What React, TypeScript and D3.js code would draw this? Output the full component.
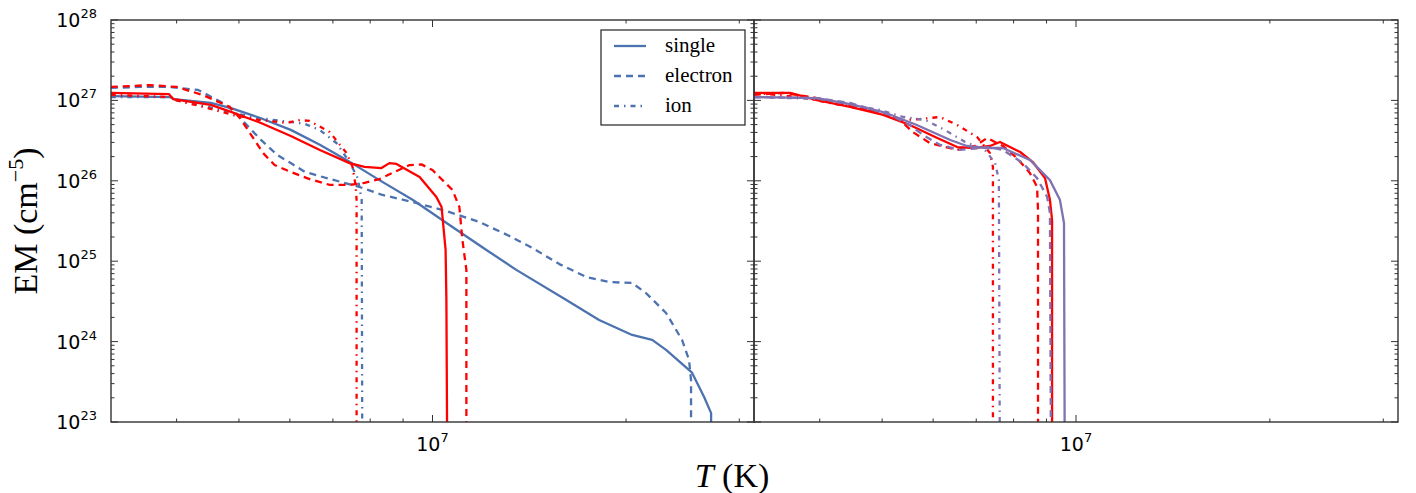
import React from 'react'
import * as d3 from 'd3'

type Pt = [number, number] // [T (K), EM (cm^-5)]

// left panel – blue runs
const singleBlue: Pt[] = [
  [3.16e6, 1.13e27], [3.91e6, 1.1e27], [3.96e6, 1.04e27], [4.52e6, 9.3e26], [4.86e6, 8.0e26],
  [5.41e6, 6.0e26], [6.02e6, 4.3e26], [6.68e6, 2.8e26], [7.35e6, 1.82e26], [8.27e6, 1.02e26],
  [9.31e6, 5.8e25], [1.074e7, 2.66e25], [1.213e7, 1.38e25], [1.35e7, 7.8e24], [1.615e7, 3.3e24],
  [1.816e7, 1.86e24], [2.044e7, 1.21e24], [2.196e7, 1.05e24], [2.308e7, 7.9e23], [2.533e7, 4.1e23],
  [2.645e7, 2.05e23], [2.712e7, 1.29e23], [2.712e7, 1e22],
]
const electronBlue: Pt[] = [
  [3.16e6, 1.43e27], [3.51e6, 1.47e27], [3.9e6, 1.47e27], [4.32e6, 1.35e27], [4.69e6, 9.55e26],
  [4.93e6, 7.17e26], [5.09e6, 5.39e26], [5.41e6, 3.22e26], [5.74e6, 2.09e26], [6.02e6, 1.66e26],
  [6.33e6, 1.29e26], [6.75e6, 1.115e26], [7.7e6, 8.38e25], [8.36e6, 6.66e25], [9.31e6, 5.45e25],
  [1.051e7, 4.2e25], [1.183e7, 3.07e25], [1.317e7, 2.06e25], [1.43e7, 1.46e25], [1.575e7, 9.2e24],
  [1.735e7, 6.36e24], [1.883e7, 5.5e24], [2.044e7, 5.36e24], [2.149e7, 4.0e24], [2.308e7, 2.27e24],
  [2.444e7, 1.05e24], [2.506e7, 5.9e23], [2.524e7, 3.3e23], [2.524e7, 1e22],
]
const ionBlue: Pt[] = [
  [3.16e6, 1.1e27], [3.93e6, 1.1e27], [3.98e6, 1.01e27], [4.35e6, 8.8e26], [4.89e6, 7.0e26],
  [5.39e6, 6.0e26], [6.0e6, 5.4e26], [6.33e6, 5.1e26], [6.68e6, 4.28e26], [7.09e6, 2.95e26],
  [7.43e6, 1.71e26], [7.65e6, 1.08e26], [7.76e6, 5.8e25], [7.78e6, 1e22],
]

// left panel – red runs
const singleRedL: Pt[] = [
  [3.16e6, 1.24e27], [3.89e6, 1.2e27], [3.95e6, 1.04e27], [4.52e6, 8.8e26], [4.86e6, 7.2e26],
  [5.41e6, 5.24e26], [6.02e6, 3.61e26], [6.68e6, 2.42e26], [7.43e6, 1.66e26], [7.84e6, 1.49e26],
  [8.33e6, 1.44e26], [8.57e6, 1.66e26], [8.79e6, 1.62e26], [9.55e6, 1.115e26], [1.014e7, 6.3e25],
  [1.033e7, 4.72e25], [1.048e7, 1.38e25], [1.051e7, 3.3e24], [1.055e7, 1e22],
]
const electronRedL: Pt[] = [
  [3.16e6, 1.47e27], [3.64e6, 1.55e27], [4.0e6, 1.47e27], [4.39e6, 1.17e27], [4.84e6, 8.3e26],
  [5.02e6, 6.0e26], [5.2e6, 3.93e26], [5.45e6, 2.22e26], [5.68e6, 1.57e26], [6.02e6, 1.29e26],
  [6.44e6, 1.05e26], [6.92e6, 8.9e25], [7.43e6, 8.9e25], [7.84e6, 9.4e25], [8.27e6, 1.05e26],
  [8.73e6, 1.29e26], [9.21e6, 1.57e26], [9.61e6, 1.6e26], [1.0e7, 1.36e26], [1.025e7, 1.115e26],
  [1.074e7, 7.7e25], [1.101e7, 4.72e25], [1.113e7, 1.84e25], [1.129e7, 7.8e24], [1.129e7, 1e22],
]
const ionRedL: Pt[] = [
  [3.16e6, 1.17e27], [3.93e6, 1.1e27], [3.98e6, 1.01e27], [4.35e6, 8.5e26], [4.89e6, 6.6e26],
  [5.39e6, 5.7e26], [5.93e6, 5.24e26], [6.22e6, 5.7e26], [6.44e6, 5.55e26], [6.92e6, 4.04e26],
  [7.35e6, 2.22e26], [7.51e6, 1.49e26], [7.59e6, 8.9e25], [7.62e6, 5.8e25], [7.62e6, 1e22],
]

// right panel – red runs
const singleRedR: Pt[] = [
  [3.16e6, 1.24e27], [3.6e6, 1.24e27], [3.96e6, 1.01e27], [4.46e6, 8.3e26], [5.02e6, 6.6e26],
  [5.52e6, 4.94e26], [6.09e6, 3.41e26], [6.54e6, 2.63e26], [6.97e6, 2.56e26], [7.35e6, 2.71e26],
  [7.62e6, 3.04e26], [8.19e6, 2.28e26], [8.57e6, 1.71e26], [8.95e6, 1.08e26], [9.11e6, 5.8e25],
  [9.18e6, 3.25e25], [9.18e6, 1e22],
]
const electronRedR: Pt[] = [
  [3.16e6, 1.17e27], [3.51e6, 1.24e27], [3.96e6, 1.07e27], [4.46e6, 8.5e26], [5.02e6, 7.0e26],
  [5.33e6, 5.7e26], [5.58e6, 4.04e26], [5.93e6, 2.95e26], [6.54e6, 2.42e26], [6.97e6, 2.71e26],
  [7.28e6, 3.41e26], [7.7e6, 2.71e26], [8.1e6, 1.92e26], [8.48e6, 1.25e26], [8.7e6, 8.4e25],
  [8.73e6, 4.33e25], [8.73e6, 1e22],
]
const ionRedR: Pt[] = [
  [3.16e6, 1.24e27], [3.73e6, 1.1e27], [4.46e6, 8.3e26], [4.96e6, 7.0e26], [5.39e6, 5.7e26],
  [5.73e6, 5.87e26], [6.15e6, 6.22e26], [6.54e6, 4.94e26], [7.02e6, 3.51e26], [7.35e6, 2.22e26],
  [7.43e6, 1.49e26], [7.43e6, 1e22],
]

// right panel – purple runs
const singlePurple: Pt[] = [
  [3.16e6, 1.1e27], [3.96e6, 1.07e27], [4.46e6, 9.0e26], [5.02e6, 7.17e26], [5.66e6, 4.94e26],
  [6.38e6, 3.22e26], [6.77e6, 2.71e26], [7.22e6, 2.56e26], [7.7e6, 2.56e26], [8.48e6, 1.82e26],
  [9.11e6, 1.02e26], [9.44e6, 5.8e25], [9.58e6, 2.99e25], [9.61e6, 1e22],
]
const electronPurple: Pt[] = [
  [3.16e6, 1.1e27], [3.96e6, 1.07e27], [4.46e6, 9.3e26], [5.14e6, 6.6e26], [5.52e6, 4.94e26],
  [5.79e6, 3.71e26], [6.15e6, 2.79e26], [6.61e6, 2.42e26], [7.35e6, 2.63e26], [7.7e6, 2.42e26],
  [8.27e6, 1.66e26], [8.7e6, 1.08e26], [9.02e6, 6.3e25], [9.11e6, 3.98e25], [9.15e6, 1e22],
]
const ionPurple: Pt[] = [
  [3.16e6, 1.1e27], [4.0e6, 1.04e27], [4.96e6, 7.6e26], [5.39e6, 6.22e26], [5.83e6, 5.71e26],
  [6.26e6, 4.28e26], [6.73e6, 3.04e26], [7.22e6, 2.42e26], [7.49e6, 1.66e26], [7.59e6, 1.02e26],
  [7.62e6, 1e22],
]

const legendLabels = ['single', 'electron', 'ion']
const yExponents = [23, 24, 25, 26, 27, 28]
const xMajorTicks = [1e7]

const BLUE = '#4c72b0'
const RED = '#ff0000'
const PURPLE = '#8172b2'
const DASHES: Record<string, string> = { single: '', electron: '7,5', ion: '5,5,1.5,5' }

const W = 1416
const H = 493
const top = 20
const bottom = 422
const panels = [
  { x0: 111, x1: 754 },
  { x0: 754, x1: 1398 },
]

const seriesLeft = [
  { data: singleBlue, color: BLUE, kind: 'single' },
  { data: electronBlue, color: BLUE, kind: 'electron' },
  { data: ionBlue, color: BLUE, kind: 'ion' },
  { data: singleRedL, color: RED, kind: 'single' },
  { data: electronRedL, color: RED, kind: 'electron' },
  { data: ionRedL, color: RED, kind: 'ion' },
]
const seriesRight = [
  { data: singleRedR, color: RED, kind: 'single' },
  { data: electronRedR, color: RED, kind: 'electron' },
  { data: ionRedR, color: RED, kind: 'ion' },
  { data: singlePurple, color: PURPLE, kind: 'single' },
  { data: electronPurple, color: PURPLE, kind: 'electron' },
  { data: ionPurple, color: PURPLE, kind: 'ion' },
]

const axisColor = '#333'
const sansFont = '"DejaVu Sans", sans-serif'
const serifFont = '"Liberation Serif", "DejaVu Serif", serif'

const Panel = ({ idx, series, showLabels }: { idx: number; series: any[]; showLabels: boolean }) => {
  const { x0, x1 } = panels[idx]
  const x = d3.scaleLog().domain([10 ** 6.5, 10 ** 7.5]).range([x0, x1])
  const y = d3.scaleLog().domain([1e23, 1e28]).range([bottom, top])
  const line = d3
    .line<Pt>()
    .x((d) => x(d[0]))
    .y((d) => y(d[1]))

  const xMinor: number[] = []
  for (let e = 6; e <= 7; e++)
    for (let m = 2; m <= 9; m++) {
      const v = m * 10 ** e
      if (v > 10 ** 6.5 && v < 10 ** 7.5) xMinor.push(v)
    }
  const yMinor: number[] = []
  for (let e = 23; e < 28; e++) for (let m = 2; m <= 9; m++) yMinor.push(m * 10 ** e)

  const clipId = `clip-${idx}`
  const major = 7
  const minor = 3.5

  return (
    <g>
      <defs>
        <clipPath id={clipId}>
          <rect x={x0} y={top} width={x1 - x0} height={bottom - top} />
        </clipPath>
      </defs>
      <g clipPath={`url(#${clipId})`}>
        {series.map((s, i) => (
          <path
            key={i}
            d={line(s.data) || ''}
            fill="none"
            stroke={s.color}
            strokeWidth={2.3}
            strokeDasharray={DASHES[s.kind] || undefined}
            strokeLinejoin="round"
          />
        ))}
      </g>
      <rect x={x0} y={top} width={x1 - x0} height={bottom - top} fill="none" stroke={axisColor} strokeWidth={1.4} />
      <g stroke={axisColor} strokeWidth={1}>
        {xMajorTicks.map((v) => (
          <g key={'xM' + v}>
            <line x1={x(v)} x2={x(v)} y1={bottom} y2={bottom - major} />
            <line x1={x(v)} x2={x(v)} y1={top} y2={top + major} />
          </g>
        ))}
        {xMinor.map((v) => (
          <g key={'xm' + v}>
            <line x1={x(v)} x2={x(v)} y1={bottom} y2={bottom - minor} />
            <line x1={x(v)} x2={x(v)} y1={top} y2={top + minor} />
          </g>
        ))}
        {yExponents.map((e) => (
          <g key={'yM' + e}>
            <line x1={x0} x2={x0 + major} y1={y(10 ** e)} y2={y(10 ** e)} />
            <line x1={x1} x2={x1 - major} y1={y(10 ** e)} y2={y(10 ** e)} />
          </g>
        ))}
        {yMinor.map((v) => (
          <g key={'ym' + v}>
            <line x1={x0} x2={x0 + minor} y1={y(v)} y2={y(v)} />
            <line x1={x1} x2={x1 - minor} y1={y(v)} y2={y(v)} />
          </g>
        ))}
      </g>
      <g fontFamily={sansFont} fill="#000">
        {xMajorTicks.map((v) => (
          <text key={'xl' + v} x={x(v)} y={bottom + 29} fontSize={19} textAnchor="middle">
            10
            <tspan fontSize={13} dy={-9}>
              {Math.round(Math.log10(v))}
            </tspan>
          </text>
        ))}
        {showLabels &&
          yExponents.map((e) => (
            <text key={'yl' + e} x={x0 - 14} y={y(10 ** e) + 7} fontSize={19} textAnchor="end">
              10
              <tspan fontSize={13} dy={-9}>
                {e}
              </tspan>
            </text>
          ))}
      </g>
    </g>
  )
}

const Legend = () => {
  const lx = 601
  const ly = 30
  return (
    <g>
      <rect x={lx} y={ly} width={144} height={95} fill="#fff" stroke="#222" strokeWidth={1.2} />
      {legendLabels.map((lab, i) => {
        const ry = ly + 16 + i * 30
        return (
          <g key={lab}>
            <line
              x1={lx + 13}
              x2={lx + 45}
              y1={ry}
              y2={ry}
              stroke={BLUE}
              strokeWidth={2.3}
              strokeDasharray={DASHES[lab] || undefined}
            />
            <text x={lx + 64} y={ry + 6} fontFamily={serifFont} fontSize={21} fill="#000">
              {lab}
            </text>
          </g>
        )
      })}
    </g>
  )
}

export default function App() {
  return (
    <svg
      width={W}
      height={H}
      viewBox={`0 0 ${W} ${H}`}
      style={{ position: 'absolute', left: 0, top: 0, background: '#fff' }}
    >
      <rect x={0} y={0} width={W} height={H} fill="#fff" />
      <Panel idx={0} series={seriesLeft} showLabels={true} />
      <Panel idx={1} series={seriesRight} showLabels={false} />
      <Legend />
      <text
        transform={`translate(37,${(top + bottom) / 2}) rotate(-90)`}
        textAnchor="middle"
        fontFamily={serifFont}
        fontSize={34}
        fill="#000"
      >
        EM (cm
        <tspan fontSize={22} dy={-14}>
          −5
        </tspan>
        <tspan dy={14}>)</tspan>
      </text>
      <text x={732} y={487} textAnchor="middle" fontFamily={serifFont} fontSize={34} fill="#000">
        <tspan fontStyle="italic">T</tspan> (K)
      </text>
    </svg>
  )
}
